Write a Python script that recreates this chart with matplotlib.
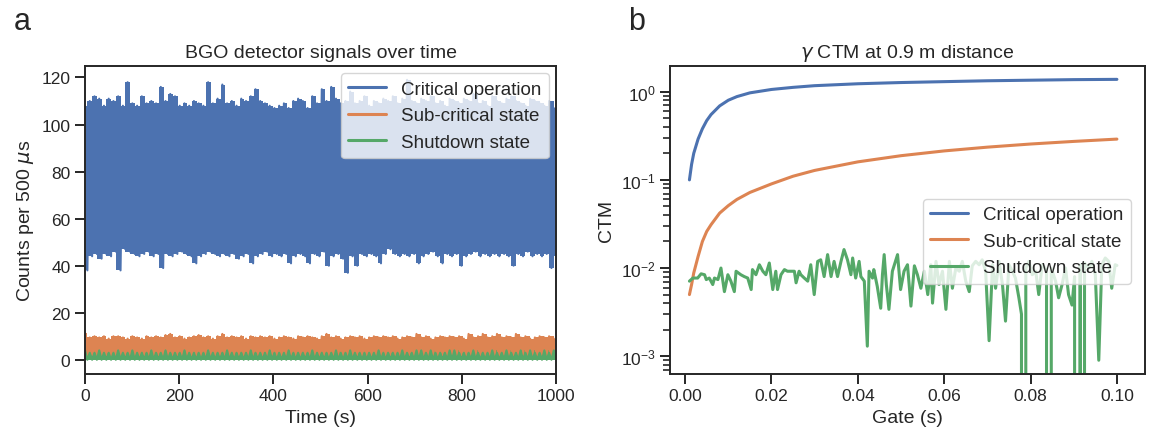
import numpy as np
import matplotlib
matplotlib.use('Agg')
import matplotlib.pyplot as plt
from matplotlib.ticker import LogLocator, NullFormatter
import seaborn as sns


# ---- panel a: BGO counts, peak (hi) and dip (lo) envelopes read every 10 s ----
crit_hi = [108, 110, 112, 111, 108, 111, 110, 112, 108, 118,
           109, 108, 112, 109, 110, 109, 116, 110, 113, 112,
           108, 109, 108, 110, 109, 108, 118, 109, 111, 117,
           109, 110, 108, 111, 110, 112, 115, 110, 109, 108,
           107, 108, 109, 107, 110, 111, 110, 107, 112, 109,
           115, 110, 116, 111, 109, 110, 114, 109, 110, 112,
           108, 110, 109, 111, 110, 112, 109, 111, 119, 110,
           109, 111, 110, 112, 109, 110, 108, 111, 110, 109,
           111, 110, 113, 109, 110, 108, 112, 110, 109, 111,
           112, 110, 109, 108, 111, 110, 109, 108, 110, 107]
crit_lo = [38, 44, 45, 43, 45, 44, 46, 38, 47, 46,
           45, 44, 45, 46, 44, 45, 39, 45, 44, 45,
           46, 45, 44, 41, 44, 45, 46, 45, 44, 45,
           44, 45, 43, 44, 45, 41, 44, 45, 46, 44,
           45, 44, 45, 41, 44, 45, 44, 41, 45, 44,
           46, 40, 44, 45, 43, 37, 44, 40, 45, 44,
           45, 44, 41, 45, 47, 45, 44, 45, 44, 45,
           41, 44, 45, 46, 44, 41, 45, 44, 45, 40,
           44, 45, 46, 44, 45, 44, 45, 44, 45, 44,
           40, 45, 44, 46, 44, 45, 44, 45, 39, 44]
sub_hi = [11.5, 9.5, 10, 9.5, 10, 9, 10, 10, 9.5, 9,
          10, 9.5, 9, 10, 9.5, 10, 9.5, 10.5, 11, 9.5,
          10, 9, 9.5, 10, 10.5, 9.5, 10, 9, 10, 11,
          9.5, 10, 9.5, 10, 9, 10, 9.5, 10, 9.5, 10,
          9, 9.5, 10, 9.5, 9, 10, 9.5, 10, 9.5, 9,
          10, 11, 9.5, 10, 9, 9.5, 10, 9.5, 10, 9,
          9.5, 10, 9.5, 10, 9.5, 10, 9, 9.5, 10, 9.5,
          11, 9.5, 10, 9, 9.5, 10, 9.5, 10, 9.5, 10,
          9, 11, 9.5, 10, 11, 9.5, 10, 11, 9.5, 10,
          9.5, 11, 9.5, 10, 9, 9.5, 10, 9.5, 10, 9]
sub_lo = [1, 2, 1, 1, 2, 1, 1, 1, 2, 1,
          1, 1, 2, 1, 1, 2, 1, 1, 1, 2,
          1, 2, 1, 1, 1, 2, 1, 1, 2, 1,
          1, 1, 2, 1, 1, 1, 2, 1, 1, 2,
          1, 1, 1, 2, 1, 1, 2, 1, 1, 1,
          2, 1, 1, 2, 1, 1, 1, 2, 1, 1,
          1, 2, 1, 1, 2, 1, 1, 1, 2, 1,
          1, 1, 2, 1, 1, 2, 1, 1, 1, 2,
          1, 2, 1, 1, 1, 2, 1, 1, 2, 1,
          1, 1, 2, 1, 1, 1, 2, 1, 1, 1]
shut_hi = [4, 3, 3, 4, 3, 3, 3, 4, 3, 3,
           4, 3, 3, 3, 4, 3, 3, 4, 3, 3,
           3, 4, 3, 3, 3, 3, 4, 3, 3, 3,
           4, 3, 3, 3, 3, 4, 3, 3, 3, 4,
           3, 3, 3, 4, 3, 3, 3, 3, 4, 3,
           3, 3, 3, 4, 3, 3, 4, 3, 3, 3,
           3, 3, 4, 3, 3, 3, 3, 4, 3, 3,
           4, 4, 3, 4, 3, 3, 3, 4, 4, 3,
           3, 3, 4, 3, 3, 3, 4, 3, 3, 4,
           3, 3, 4, 3, 4, 3, 3, 4, 3, 4]
shut_lo = [0, 0, 0, 0, 0, 0, 0, 0, 0, 0,
           0, 0, 0, 0, 0, 0, 0, 0, 0, 0,
           0, 0, 0, 0, 0, 0, 0, 0, 0, 0,
           0, 0, 0, 0, 0, 0, 0, 0, 0, 0,
           0, 0, 0, 0, 0, 0, 0, 0, 0, 0,
           0, 0, 0, 0, 0, 0, 0, 0, 0, 0,
           0, 0, 0, 0, 0, 0, 0, 0, 0, 0,
           0, 0, 0, 0, 0, 0, 0, 0, 0, 0,
           0, 0, 0, 0, 0, 0, 0, 0, 0, 0,
           0, 0, 0, 0, 0, 0, 0, 0, 0, 0]
t_end = 1000

# ---- panel b: CTM against gate width ----
gate_smooth = [0.001, 0.0015, 0.002, 0.003, 0.004, 0.005, 0.006, 0.008, 0.01, 0.012,
               0.015, 0.02, 0.025, 0.03, 0.04, 0.05, 0.06, 0.07, 0.08, 0.09, 0.1]
ctm_crit = [0.10, 0.15, 0.20, 0.29, 0.38, 0.47, 0.55, 0.69, 0.80, 0.88,
            0.97, 1.06, 1.12, 1.17, 1.23, 1.27, 1.30, 1.33, 1.35, 1.37, 1.38]
ctm_sub = [0.0050, 0.0065, 0.0088, 0.0135, 0.020, 0.026, 0.031, 0.042, 0.051, 0.060,
           0.072, 0.090, 0.110, 0.128, 0.160, 0.188, 0.213, 0.235, 0.255, 0.273, 0.29]
gate_shut = [0.0010, 0.0018, 0.0029, 0.0037, 0.0045, 0.0049, 0.0056, 0.0064, 0.0068, 0.0076,
             0.0083, 0.0091, 0.0099, 0.0106, 0.0114, 0.0118, 0.0129, 0.0137, 0.0145, 0.0153,
             0.0156, 0.0164, 0.0172, 0.0180, 0.0187, 0.0195, 0.0203, 0.0210, 0.0214, 0.0222,
             0.0230, 0.0237, 0.0245, 0.0253, 0.0257, 0.0264, 0.0268, 0.0276, 0.0284, 0.0291,
             0.0299, 0.0307, 0.0314, 0.0322, 0.0330, 0.0338, 0.0345, 0.0353, 0.0361, 0.0368,
             0.0376, 0.0384, 0.0388, 0.0395, 0.0403, 0.0407, 0.0415, 0.0422, 0.0426, 0.0434,
             0.0437, 0.0445, 0.0453, 0.0457, 0.0461, 0.0466, 0.0472, 0.0480, 0.0492, 0.0499,
             0.0507, 0.0515, 0.0523, 0.0531, 0.0538, 0.0546, 0.0554, 0.0562, 0.0569, 0.0573,
             0.0581, 0.0588, 0.0596, 0.0604, 0.0612, 0.0619, 0.0627, 0.0635, 0.0642, 0.0650,
             0.0658, 0.0665, 0.0673, 0.0681, 0.0688, 0.0696, 0.0704, 0.0712, 0.0719, 0.0727,
             0.0735, 0.0742, 0.0750, 0.0758, 0.0765, 0.0773, 0.0779, 0.0785, 0.0789, 0.0796,
             0.0804, 0.0812, 0.0819, 0.0827, 0.0837, 0.0842, 0.0848, 0.0858, 0.0865, 0.0873,
             0.0881, 0.0888, 0.0896, 0.0902, 0.0908, 0.0915, 0.0921, 0.0925, 0.0935, 0.0942,
             0.0950, 0.0958, 0.0965, 0.0973, 0.0981, 0.0988, 0.0996, 0.1000]
ctm_shut = [0.0071, 0.0077, 0.0077, 0.0086, 0.0084, 0.0074, 0.0077, 0.0065, 0.0077, 0.0074,
            0.0100, 0.0054, 0.0084, 0.0071, 0.0054, 0.0092, 0.0084, 0.0080, 0.0077, 0.0057,
            0.0096, 0.0084, 0.0109, 0.0092, 0.0084, 0.0114, 0.0057, 0.0092, 0.0057, 0.0084,
            0.0096, 0.0092, 0.0092, 0.0092, 0.0068, 0.0092, 0.0084, 0.0077, 0.0071, 0.0109,
            0.0050, 0.0119, 0.0124, 0.0080, 0.0142, 0.0080, 0.0119, 0.0080, 0.0119, 0.0162,
            0.0124, 0.0084, 0.0130, 0.0077, 0.0119, 0.0080, 0.0071, 0.0013, 0.0092, 0.0077,
            0.0096, 0.0062, 0.0035, 0.0084, 0.0142, 0.0065, 0.0034, 0.0092, 0.0142, 0.0057,
            0.0092, 0.0109, 0.0037, 0.0106, 0.0084, 0.0059, 0.0092, 0.0050, 0.0109, 0.0040,
            0.0119, 0.0065, 0.0092, 0.0034, 0.0119, 0.0059, 0.0100, 0.0092, 0.0119, 0.0071,
            0.0054, 0.0106, 0.0119, 0.0109, 0.0124, 0.0092, 0.0015, 0.0109, 0.0059, 0.0119,
            0.0065, 0.0025, 0.0109, 0.0092, 0.0077, 0.0046, 0.0030, 0.0, 0.0100, 0.0119,
            0.0084, 0.0092, 0.0050, 0.0109, 0.0096, 0.0, 0.0100, 0.0071, 0.0046, 0.0065,
            0.0100, 0.0050, 0.0038, 0.0080, 0.0, 0.0109, 0.0, 0.0114, 0.0100, 0.0119,
            0.0084, 0.0009, 0.0109, 0.0130, 0.0119, 0.0059, 0.0109, 0.0107]

labels = ['Critical operation', 'Sub-critical state', 'Shutdown state']


def zigzag(hi, lo):
    # alternate peak / dip so the dense signal fills its band
    y = np.empty(2 * len(hi))
    y[0::2] = hi
    y[1::2] = lo
    return y


sns.set_theme(style='ticks', context='notebook')
plt.rcParams['font.family'] = ['Liberation Sans', 'DejaVu Sans']
plt.rcParams['axes.linewidth'] = 1.4
colours = sns.color_palette('deep')

fig = plt.figure(figsize=(11.52, 4.39), dpi=100)
ax1 = fig.add_axes([0.0738, 0.146, 0.409, 0.702])
ax2 = fig.add_axes([0.5816, 0.146, 0.4123, 0.702])

# panel a
for hi, lo, c, lab in zip([crit_hi, sub_hi, shut_hi], [crit_lo, sub_lo, shut_lo], colours[:3], labels):
    t_env = np.linspace(0, t_end, len(hi))
    ax1.fill_between(t_env, lo, hi, step='mid', color=c, lw=0)
    y = zigzag(hi, lo)
    t = np.linspace(0, t_end, len(y))
    ax1.plot(t, y, color=c, lw=1.5, label=lab)
ax1.set_xlim(0, t_end)
ax1.set_ylim(-6, 125)
ax1.set_xticks([0, 200, 400, 600, 800, 1000])
ax1.set_yticks([0, 20, 40, 60, 80, 100, 120])
ax1.set_xlabel('Time (s)', fontsize=14)
ax1.set_ylabel(r'Counts per 500 $\mu$s', fontsize=14)
ax1.set_title('BGO detector signals over time', fontsize=14)
ax1.tick_params(labelsize=12.5, length=7, width=1.4)
leg1 = ax1.legend(loc='upper right', fontsize=13.5, borderaxespad=0.4)
for line in leg1.get_lines():
    line.set_linewidth(2.2)

# panel b
ax2.plot(gate_smooth, ctm_crit, color=colours[0], lw=2.2, label=labels[0])
ax2.plot(gate_smooth, ctm_sub, color=colours[1], lw=2.2, label=labels[1])
ax2.plot(gate_shut, ctm_shut, color=colours[2], lw=2.2, label=labels[2])
ax2.set_yscale('log')
ax2.yaxis.set_minor_locator(LogLocator(base=10, subs=np.arange(2, 10), numticks=20))
ax2.yaxis.set_minor_formatter(NullFormatter())
ax2.set_xlim(-0.0035, 0.1065)
ax2.set_ylim(6.3e-4, 1.97)
ax2.set_xticks([0.0, 0.02, 0.04, 0.06, 0.08, 0.10])
ax2.set_xticklabels(['0.00', '0.02', '0.04', '0.06', '0.08', '0.10'])
ax2.set_xlabel('Gate (s)', fontsize=14)
ax2.set_ylabel('CTM', fontsize=14)
ax2.set_title(r'$\gamma$ CTM at 0.9 m distance', fontsize=14)
ax2.tick_params(labelsize=12.5, length=7, width=1.4)
ax2.tick_params(axis='y', which='minor', length=5, width=1.2, left=True, color='0.15')
ax2.legend(loc='center right', bbox_to_anchor=(0.99, 0.43), fontsize=13.5)

fig.text(0.012, 0.985, 'a', fontsize=22, va='top')
fig.text(0.545, 0.985, 'b', fontsize=22, va='top')

fig.savefig('out.png', dpi=100)
